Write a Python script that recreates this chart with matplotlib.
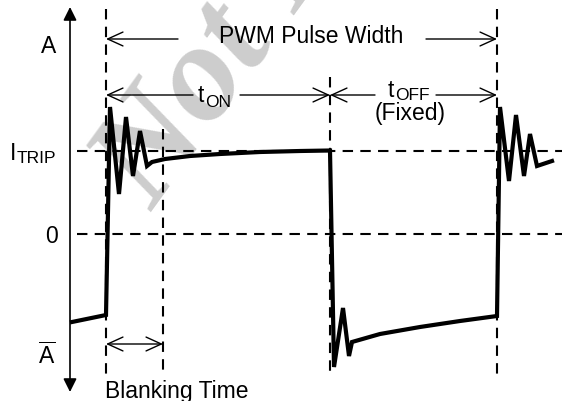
import matplotlib
matplotlib.use('Agg')
import matplotlib.pyplot as plt

plt.rcParams['font.family'] = ['Liberation Sans', 'DejaVu Sans']
plt.rcParams['mathtext.fontset'] = 'custom'
plt.rcParams['mathtext.rm'] = 'Liberation Sans'

# Pontos da forma de onda (coordenadas do desenho, y cresce para baixo)
wave_x = [72, 106, 110, 119, 126, 133, 140, 147, 152, 165, 190, 220, 260, 300, 330,
          334, 343, 349, 352, 380, 420, 460, 497,
          500, 509, 516, 524, 530, 537, 552]
wave_y = [323, 316, 108, 195, 118, 177, 132, 167, 163, 160, 157, 155, 153, 152, 151.5,
          368, 309, 357, 343, 335, 328, 322, 317,
          108, 182, 116, 177, 135, 167, 162]

# Linhas verticais tracejadas (posicao, topo, base)
edge_x = [106, 163, 330, 497]
edge_top = [10, 130, 78, 10]
edge_bot = [376, 376, 376, 376]

# Niveis horizontais
level_names = ['I_TRIP', '0']
level_y = [152, 235]

fig = plt.figure(figsize=(5.62, 4.02), dpi=100)
ax = fig.add_axes([0, 0, 1, 1])
ax.set_xlim(0, 562)
ax.set_ylim(402, 0)
ax.axis('off')

# Marca d'agua
ax.text(152, 212, 'Not Recommended', rotation=54, fontsize=100, color='#cdcdcd',
        family='Liberation Serif', weight='bold', style='italic',
        ha='left', va='baseline', rotation_mode='anchor', zorder=0)

# Eixo vertical com setas
ax.annotate('', xy=(70, 8), xytext=(70, 393),
            arrowprops=dict(arrowstyle='<|-|>', color='black', lw=1.2,
                            mutation_scale=20, shrinkA=0, shrinkB=0))

dash = (0, (5, 3.5))
for y in level_y:
    ax.plot([77, 562], [y, y], color='black', lw=1.5, linestyle=dash, zorder=2)
for x, t, b in zip(edge_x, edge_top, edge_bot):
    ax.plot([x, x], [t, b], color='black', lw=1.5, linestyle=dash, zorder=2)

ax.plot(wave_x, wave_y, color='black', lw=3, solid_joinstyle='miter', zorder=3)

# Setas de medida
def seta(x0, x1, y, estilo='->'):
    ax.annotate('', xy=(x1, y), xytext=(x0, y),
                arrowprops=dict(arrowstyle=estilo + ',head_length=0.55,head_width=0.25',
                                color='black', lw=1.0, mutation_scale=20,
                                shrinkA=0, shrinkB=0))

seta(178, 106, 40)
seta(426, 497, 40)
seta(193, 106, 96)
seta(240, 330, 96)
seta(375, 330, 96)
seta(436, 497, 96)
seta(106, 163, 345, '<->')

fs = 16.5
fsub = 12.5
ax.text(311, 43, 'PWM Pulse Width', fontsize=fs, ha='center', va='baseline')
ax.text(198, 102, 't', fontsize=fs, ha='left', va='baseline')
ax.text(205, 107, 'ON', fontsize=fsub, ha='left', va='baseline')
ax.text(388, 97, 't', fontsize=fs, ha='left', va='baseline')
ax.text(395, 100, 'OFF', fontsize=fsub, ha='left', va='baseline')
ax.text(410, 120, '(Fixed)', fontsize=fs, ha='center', va='baseline')
ax.text(105, 398, 'Blanking Time', fontsize=fs, ha='left', va='baseline')

ax.text(49, 53, 'A', fontsize=fs, ha='center', va='baseline')
ax.text(10, 160, 'I', fontsize=fs, ha='left', va='baseline')
ax.text(17, 163, 'TRIP', fontsize=fsub, ha='left', va='baseline')
ax.text(51, 243, '0', fontsize=fs, ha='center', va='baseline')
ax.text(47, 364, r'$\overline{\mathrm{A}}$', fontsize=fs, ha='center', va='baseline')

fig.savefig('out.png', dpi=100)
